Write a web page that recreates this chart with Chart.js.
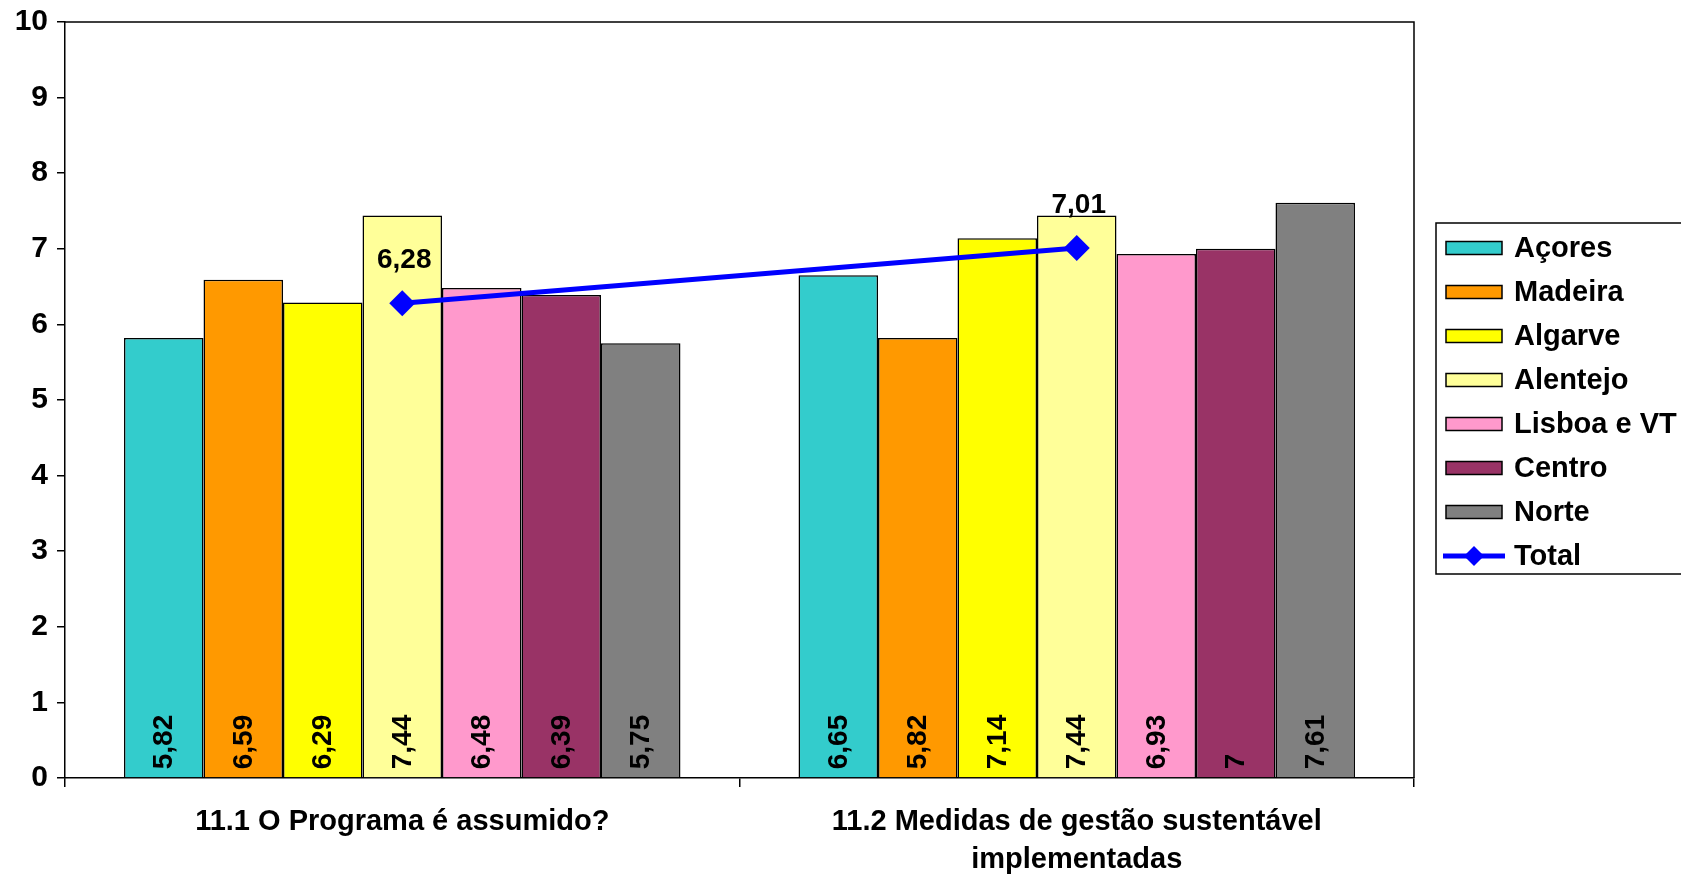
<!DOCTYPE html>
<html>
<head>
<meta charset="utf-8">
<script src="https://cdn.jsdelivr.net/npm/chart.js@4"></script>
<style>
  html, body { margin: 0; padding: 0; background: #ffffff; }
  #wrap { width: 1681px; height: 874px; }
</style>
</head>
<body>
<div id="wrap"><canvas id="c" width="1681" height="874"></canvas></div>
<script>
// Categories (question items)
const categories = [
  ['11.1 O Programa é assumido?'],
  ['11.2 Medidas de gestão sustentável', 'implementadas']
];

// Region names and colours
const regions = ['Açores', 'Madeira', 'Algarve', 'Alentejo', 'Lisboa e VT', 'Centro', 'Norte'];
const regionColors = ['#33CCCC', '#FF9900', '#FFFF00', '#FFFF99', '#FF99CC', '#993366', '#808080'];

// Scores per region
const acores   = [5.82, 6.65];
const madeira  = [6.59, 5.82];
const algarve  = [6.29, 7.14];
const alentejo = [7.44, 7.44];
const lisboa   = [6.48, 6.93];
const centro   = [6.39, 7.00];
const norte    = [5.75, 7.61];

// Overall score
const total = [6.28, 7.01];

// Y axis ticks
const yTicks = [0, 1, 2, 3, 4, 5, 6, 7, 8, 9, 10];

const regionValues = [acores, madeira, algarve, alentejo, lisboa, centro, norte];

const FONT = 'Liberation Sans, Arial, sans-serif';
const fmt = v => String(Math.round(v * 100) / 100).replace('.', ',');

const datasets = regions.map((name, i) => ({
  type: 'bar',
  label: name,
  data: regionValues[i],
  backgroundColor: regionColors[i],
  borderColor: '#000000',
  borderWidth: 1.5,
  categoryPercentage: 0.825,
  barPercentage: 1.0,
  order: 1
}));
datasets.push({
  type: 'line',
  label: 'Total',
  data: total,
  borderColor: '#0000FF',
  backgroundColor: '#0000FF',
  borderWidth: 5,
  pointStyle: 'rectRot',
  pointRadius: 13,
  pointBorderWidth: 0,
  pointBackgroundColor: '#0000FF',
  tension: 0,
  order: 0
});

// Frame, value labels and legend
const decorations = {
  id: 'decorations',
  beforeDatasetsDraw(chart) {
    const { ctx, chartArea: a } = chart;
    ctx.save();
    ctx.strokeStyle = '#000';
    ctx.lineWidth = 1.5;
    ctx.beginPath();
    ctx.moveTo(a.left, a.top);
    ctx.lineTo(a.right, a.top);
    ctx.lineTo(a.right, a.bottom);
    ctx.stroke();
    ctx.restore();
  },
  afterDatasetsDraw(chart) {
    const { ctx } = chart;
    ctx.save();
    ctx.fillStyle = '#000';
    // rotated value labels at the foot of each bar
    ctx.font = 'bold 28px ' + FONT;
    regions.forEach((_, i) => {
      const meta = chart.getDatasetMeta(i);
      meta.data.forEach((bar, j) => {
        const v = chart.data.datasets[i].data[j];
        ctx.save();
        ctx.translate(bar.x, bar.base - 8);
        ctx.rotate(-Math.PI / 2);
        ctx.textAlign = 'left';
        ctx.textBaseline = 'middle';
        ctx.fillText(fmt(v), 0, 1);
        ctx.restore();
      });
    });
    // labels above total points
    const lineIdx = chart.data.datasets.length - 1;
    const lm = chart.getDatasetMeta(lineIdx);
    ctx.textAlign = 'center';
    ctx.textBaseline = 'middle';
    lm.data.forEach((pt, j) => {
      ctx.fillText(fmt(chart.data.datasets[lineIdx].data[j]), pt.x + 2, pt.y - 43);
    });
    ctx.restore();
  },
  afterDraw(chart) {
    const { ctx } = chart;
    const boxL = 1436, boxT = 223, boxB = 574;
    ctx.save();
    ctx.strokeStyle = '#000';
    ctx.lineWidth = 1.5;
    ctx.strokeRect(boxL, boxT, 300, boxB - boxT);
    ctx.font = 'bold 29px ' + FONT;
    ctx.textBaseline = 'middle';
    ctx.textAlign = 'left';
    const rowStart = 248, rowStep = 44;
    chart.data.datasets.forEach((ds, i) => {
      const cy = rowStart + i * rowStep;
      if (ds.type === 'bar') {
        ctx.fillStyle = ds.backgroundColor;
        ctx.fillRect(1446, cy - 6.5, 56, 13);
        ctx.lineWidth = 1.5;
        ctx.strokeStyle = '#000';
        ctx.strokeRect(1446, cy - 6.5, 56, 13);
      } else {
        ctx.strokeStyle = ds.borderColor;
        ctx.lineWidth = 5;
        ctx.beginPath();
        ctx.moveTo(1443, cy);
        ctx.lineTo(1505, cy);
        ctx.stroke();
        ctx.fillStyle = ds.borderColor;
        ctx.beginPath();
        ctx.moveTo(1474, cy - 10);
        ctx.lineTo(1484, cy);
        ctx.lineTo(1474, cy + 10);
        ctx.lineTo(1464, cy);
        ctx.closePath();
        ctx.fill();
      }
      ctx.fillStyle = '#000';
      ctx.fillText(ds.label, 1514, cy + 1);
    });
    ctx.restore();
  }
};

new Chart(document.getElementById('c'), {
  data: { labels: categories, datasets },
  options: {
    responsive: false,
    animation: false,
    layout: { padding: { left: 0, right: 267, top: 22, bottom: 0 } },
    plugins: { legend: { display: false }, tooltip: { enabled: false } },
    scales: {
      x: {
        grid: { offset: true, drawOnChartArea: false, tickLength: 9, color: '#000', lineWidth: 1.5 },
        border: { display: true, color: '#000', width: 1.5 },
        ticks: {
          color: '#000',
          padding: 16,
          maxRotation: 0,
          font: { family: FONT, size: 29, weight: 'bold', lineHeight: 1.3 }
        },
        afterFit(s) { s.height = 96; s.paddingLeft = 0; s.paddingRight = 0; }
      },
      y: {
        min: 0,
        max: 10,
        afterBuildTicks(s) { s.ticks = yTicks.map(v => ({ value: v })); },
        grid: { drawOnChartArea: false, tickLength: 8, color: '#000', lineWidth: 1.5 },
        border: { display: true, color: '#000', width: 1.5 },
        ticks: {
          color: '#000',
          padding: 9,
          font: { family: FONT, size: 30, weight: 'bold' }
        },
        afterFit(s) { s.width = 65; s.paddingTop = 0; s.paddingBottom = 0; }
      }
    }
  },
  plugins: [decorations]
});
</script>
</body>
</html>
